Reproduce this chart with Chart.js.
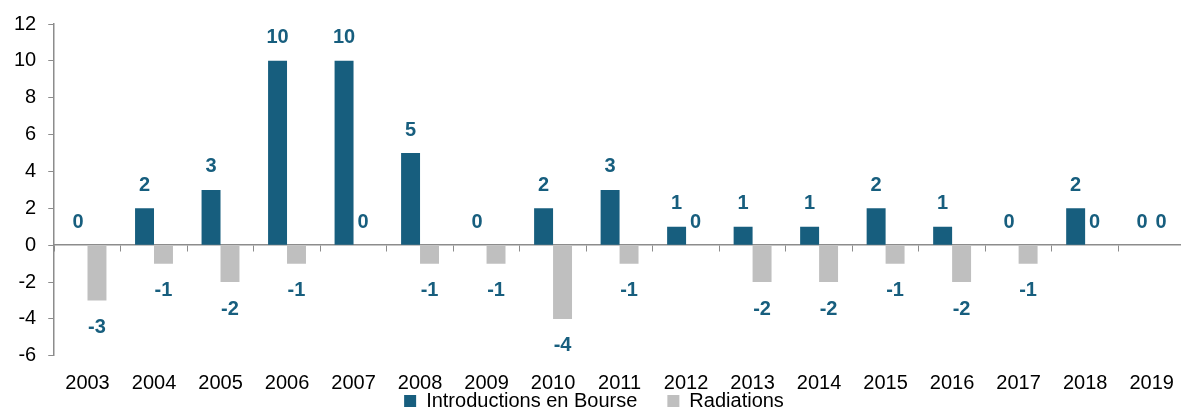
<!DOCTYPE html>
<html>
<head>
<meta charset="utf-8">
<script src="https://cdn.jsdelivr.net/npm/chart.js@4/dist/chart.umd.min.js"></script>
<style>
  html, body { margin: 0; padding: 0; background: #fff; overflow: hidden; }
  #wrap { width: 1181px; height: 408px; overflow: hidden; }
  canvas { display: block; }
</style>
</head>
<body>
<div id="wrap"><canvas id="chart" width="1190" height="426"></canvas></div>
<script>
const years = ['2003', '2004', '2005', '2006', '2007', '2008', '2009', '2010', '2011',
    '2012', '2013', '2014', '2015', '2016', '2017', '2018', '2019']
const introductions = [0, 2, 3, 10, 10, 5, 0, 2, 3, 1, 1, 1, 2, 1, 0, 2, 0]
const radiations = [-3, -1, -2, -1, 0, -1, -1, -4, -1, 0, -2, -2, -1, -2, -1, 0, 0]
const yTicks = [-6, -4, -2, 0, 2, 4, 6, 8, 10, 12]

const blue = '#175e7e'
const grey = '#bfbfbf'
const axisGrey = '#8c8c8c'
const font = '"Liberation Sans", Arial, sans-serif'

// value labels above / below each bar
const barLabels = {
    id: 'barLabels',
    afterDatasetsDraw(chart) {
        const ctx = chart.ctx
        ctx.save()
        ctx.font = 'bold 20px ' + font
        ctx.fillStyle = blue
        ctx.textAlign = 'center'
        ctx.textBaseline = 'middle'
        chart.data.datasets.forEach((ds, di) => {
            const meta = chart.getDatasetMeta(di)
            meta.data.forEach((bar, i) => {
                const v = ds.data[i]
                const y = v < 0 ? bar.y + 27 : bar.y - 23
                ctx.fillText(String(v), bar.x, y)
            })
        })
        ctx.restore()
    }
}

new Chart(document.getElementById('chart'), {
    type: 'bar',
    data: {
        labels: years,
        datasets: [
            { label: 'Introductions en Bourse', data: introductions, backgroundColor: blue },
            { label: 'Radiations', data: radiations, backgroundColor: grey }
        ]
    },
    options: {
        responsive: false,
        animation: false,
        layout: { padding: { top: 11, right: 4, left: 2, bottom: 5 } },
        categoryPercentage: 0.57,
        barPercentage: 1,
        scales: {
            // year labels hang under the bottom of the plot (y = -6)
            x: {
                position: { y: -6 },
                offset: true,
                grid: { display: false, drawTicks: false },
                border: { display: false },
                ticks: {
                    color: '#000',
                    font: { size: 20, family: font },
                    padding: 16
                }
            },
            // zero line with the category tick marks
            xZero: {
                type: 'category',
                labels: years,
                position: { y: 0 },
                offset: true,
                grid: { offset: true, drawOnChartArea: false, tickLength: 6, color: axisGrey },
                border: { display: true, color: axisGrey, width: 1.5 },
                ticks: { display: false }
            },
            y: {
                min: -6,
                max: 12,
                afterBuildTicks(scale) {
                    scale.ticks = yTicks.map(v => ({ value: v }))
                },
                grid: { drawOnChartArea: false, tickLength: 6, color: axisGrey },
                border: { color: axisGrey, width: 1.5 },
                ticks: {
                    color: '#000',
                    font: { size: 20, family: font },
                    padding: 12
                }
            }
        },
        plugins: {
            legend: {
                position: 'bottom',
                // empty title only used as a spacer above the items
                title: { display: true, text: '', font: { size: 1 }, padding: { top: 4, bottom: 0 } },
                labels: {
                    boxWidth: 12,
                    boxHeight: 12,
                    padding: 30,
                    color: '#000',
                    font: { size: 20, family: font }
                }
            },
            tooltip: { enabled: false }
        }
    },
    plugins: [barLabels]
})
</script>
</body>
</html>
